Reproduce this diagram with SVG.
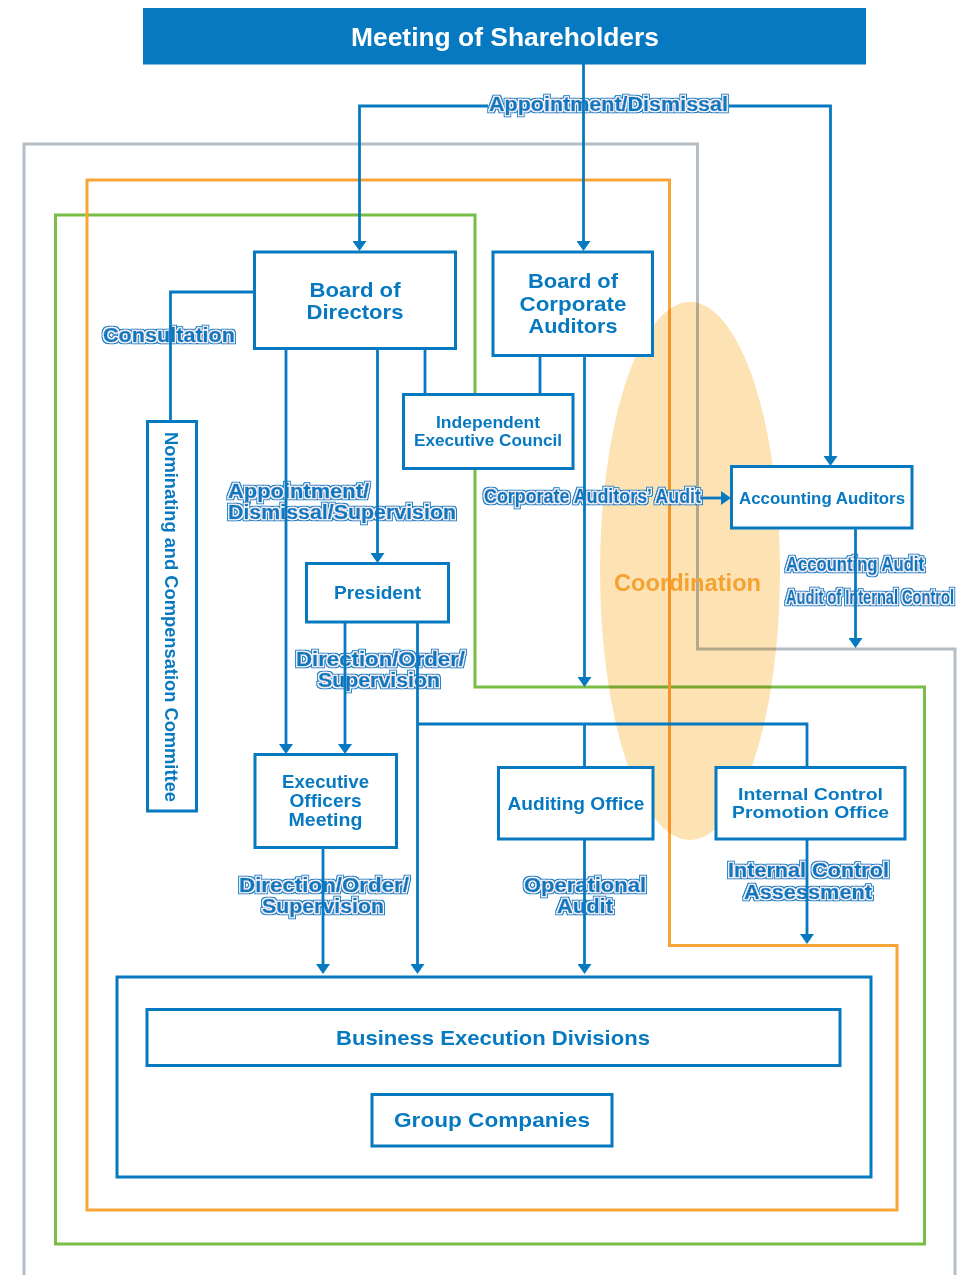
<svg xmlns="http://www.w3.org/2000/svg" width="971" height="1275" viewBox="0 0 971 1275">
<style>
.box{fill:#fff;stroke:#0779c1;stroke-width:3}
.nt{font-family:"Liberation Sans",Arial,sans-serif;font-weight:bold;fill:#0779c1;text-anchor:middle}
.lb{font-family:"Liberation Sans",Arial,sans-serif;font-weight:bold;fill:#0779c1;stroke:#0779c1;stroke-width:0.5;font-size:20px;filter:url(#halo)}
.cn{fill:none;stroke:#0779c1;stroke-width:2.8}
.ar{marker-end:url(#arr)}
</style>
<defs>
<marker id="arr" markerUnits="userSpaceOnUse" markerWidth="10" markerHeight="14" viewBox="0 0 10 14" refX="7" refY="7" orient="auto">
<path d="M0,0 L10,7 L0,14 Z" fill="#0779c1"/>
</marker>
<filter id="halo" x="-10%" y="-30%" width="120%" height="160%">
<feMorphology in="SourceAlpha" operator="dilate" radius="2.4" result="o"/>
<feFlood flood-color="#0779c1"/>
<feComposite in2="o" operator="in" result="ob"/>
<feMorphology in="SourceAlpha" operator="dilate" radius="1.3" result="i"/>
<feFlood flood-color="#ffffff"/>
<feComposite in2="i" operator="in" result="iw"/>
<feMerge><feMergeNode in="ob"/><feMergeNode in="iw"/><feMergeNode in="SourceGraphic"/></feMerge>
</filter>
</defs>
<rect width="971" height="1275" fill="#fff"/>

<g id="frames" fill="none" stroke-width="3">
<path d="M24,1275 V144 H697.5 V649 H955 V1275" stroke="#b6bec6"/>
<path d="M55.5,215 H475 V687 H924.5 V1244 H55.5 Z" stroke="#78bd45"/>
<path d="M87,180 H669.5 V945.5 H897 V1210 H87 Z" stroke="#f7a537"/>
</g>
<ellipse id="coordination-zone" cx="690" cy="571" rx="90" ry="269" fill="#fde2b4" style="mix-blend-mode:multiply"/>
<text x="614" y="591" textLength="147" lengthAdjust="spacingAndGlyphs" font-family="Liberation Sans, Arial, sans-serif" font-weight="bold" font-size="24" fill="#f5a230">Coordination</text>

<g id="labels">
<text class="lb" x="489" y="111" textLength="239" lengthAdjust="spacingAndGlyphs">Appointment/Dismissal</text>
<text class="lb" x="103" y="342" textLength="132" lengthAdjust="spacingAndGlyphs">Consultation</text>
<text class="lb" x="228" y="498" textLength="141" lengthAdjust="spacingAndGlyphs">Appointment/</text>
<text class="lb" x="228" y="519" textLength="228" lengthAdjust="spacingAndGlyphs">Dismissal/Supervision</text>
<text class="lb" x="484" y="503" textLength="217" lengthAdjust="spacingAndGlyphs">Corporate Auditors’ Audit</text>
<text class="lb" x="786" y="571" textLength="138" lengthAdjust="spacingAndGlyphs">Accounting Audit</text>
<text class="lb" x="954" y="604" text-anchor="end" textLength="168" lengthAdjust="spacingAndGlyphs">Audit of Internal Control</text>
<text class="lb" x="296" y="666" textLength="169" lengthAdjust="spacingAndGlyphs">Direction/Order/</text>
<text class="lb" x="318" y="687" textLength="122" lengthAdjust="spacingAndGlyphs">Supervision</text>
<text class="lb" x="239" y="892" textLength="170" lengthAdjust="spacingAndGlyphs">Direction/Order/</text>
<text class="lb" x="262" y="913" textLength="122" lengthAdjust="spacingAndGlyphs">Supervision</text>
<text class="lb" x="524" y="892" textLength="122" lengthAdjust="spacingAndGlyphs">Operational</text>
<text class="lb" x="557" y="913" textLength="56" lengthAdjust="spacingAndGlyphs">Audit</text>
<text class="lb" x="728" y="877" textLength="161" lengthAdjust="spacingAndGlyphs">Internal Control</text>
<text class="lb" x="744" y="899" textLength="128" lengthAdjust="spacingAndGlyphs">Assessment</text>
</g>

<g id="connectors">
<path class="cn ar" d="M583.5,64 V248"/>
<path class="cn ar" d="M488,106 H359.5 V248"/>
<path class="cn ar" d="M729,106 H830.5 V463"/>
<path class="cn" d="M254,292 H170.5 V421"/>
<path class="cn ar" d="M286,349 V751"/>
<path class="cn ar" d="M377.5,349 V560"/>
<path class="cn" d="M425,349 V394"/>
<path class="cn" d="M540,356 V394"/>
<path class="cn ar" d="M584.5,356 V684"/>
<path class="cn ar" d="M701,498 H728"/>
<path class="cn ar" d="M855.5,528 V645"/>
<path class="cn ar" d="M345,622 V751"/>
<path class="cn ar" d="M417.5,622 V971"/>
<path class="cn" d="M417.5,724 H807 V767"/>
<path class="cn" d="M584.5,724 V767"/>
<path class="cn ar" d="M323,848 V971"/>
<path class="cn ar" d="M584.5,839 V971"/>
<path class="cn ar" d="M807,839 V941"/>
</g>

<g id="meeting-of-shareholders">
<rect x="143" y="8" width="723" height="56.5" fill="#0779c1"/>
<text x="505" y="46" textLength="308" lengthAdjust="spacingAndGlyphs" font-family="Liberation Sans, Arial, sans-serif" font-weight="bold" font-size="25" fill="#fff" text-anchor="middle">Meeting of Shareholders</text>
</g>
<g id="board-of-directors">
<rect class="box" x="254.5" y="252" width="201" height="96.5"/>
<text class="nt" font-size="21"><tspan x="355" y="297" textLength="91" lengthAdjust="spacingAndGlyphs">Board of</tspan><tspan x="355" y="319" textLength="97" lengthAdjust="spacingAndGlyphs">Directors</tspan></text>
</g>
<g id="board-of-corporate-auditors">
<rect class="box" x="493" y="252" width="159.5" height="103.5"/>
<text class="nt" font-size="21"><tspan x="573" y="288" textLength="90" lengthAdjust="spacingAndGlyphs">Board of</tspan><tspan x="573" y="311" textLength="107" lengthAdjust="spacingAndGlyphs">Corporate</tspan><tspan x="573" y="333" textLength="89" lengthAdjust="spacingAndGlyphs">Auditors</tspan></text>
</g>
<g id="independent-executive-council">
<rect class="box" x="403.5" y="394.5" width="169.5" height="74"/>
<text class="nt" font-size="16.5"><tspan x="488" y="428" textLength="104" lengthAdjust="spacingAndGlyphs">Independent</tspan><tspan x="488" y="446" textLength="148" lengthAdjust="spacingAndGlyphs">Executive Council</tspan></text>
</g>
<g id="nominating-and-compensation-committee">
<rect class="box" x="147.5" y="421.5" width="49" height="389.5"/>
<text class="nt" font-size="18" style="text-anchor:start" transform="translate(165,432) rotate(90)" x="0" y="0" textLength="370" lengthAdjust="spacingAndGlyphs">Nominating and Compensation Committee</text>
</g>
<g id="accounting-auditors">
<rect class="box" x="731.5" y="466.5" width="180.5" height="61.5"/>
<text class="nt" font-size="17" x="822" y="504" textLength="166" lengthAdjust="spacingAndGlyphs">Accounting Auditors</text>
</g>
<g id="president">
<rect class="box" x="306.5" y="563.5" width="142" height="58.5"/>
<text class="nt" font-size="17.5" x="377.5" y="599" textLength="87" lengthAdjust="spacingAndGlyphs">President</text>
</g>
<g id="executive-officers-meeting">
<rect class="box" x="255" y="754.5" width="141.5" height="93"/>
<text class="nt" font-size="18"><tspan x="325.5" y="788" textLength="87" lengthAdjust="spacingAndGlyphs">Executive</tspan><tspan x="325.5" y="807" textLength="72" lengthAdjust="spacingAndGlyphs">Officers</tspan><tspan x="325.5" y="826" textLength="74" lengthAdjust="spacingAndGlyphs">Meeting</tspan></text>
</g>
<g id="auditing-office">
<rect class="box" x="498.5" y="767.5" width="154.5" height="71.5"/>
<text class="nt" font-size="17.5" x="576" y="810" textLength="137" lengthAdjust="spacingAndGlyphs">Auditing Office</text>
</g>
<g id="internal-control-promotion-office">
<rect class="box" x="716" y="767.5" width="189" height="71.5"/>
<text class="nt" font-size="17"><tspan x="810.5" y="800" textLength="145" lengthAdjust="spacingAndGlyphs">Internal Control</tspan><tspan x="810.5" y="818" textLength="157" lengthAdjust="spacingAndGlyphs">Promotion Office</tspan></text>
</g>
<g id="execution-group">
<rect class="box" x="117" y="977" width="754" height="200"/>
</g>
<g id="business-execution-divisions">
<rect class="box" x="147" y="1009.5" width="693" height="56"/>
<text class="nt" font-size="21" x="493" y="1045" textLength="314" lengthAdjust="spacingAndGlyphs">Business Execution Divisions</text>
</g>
<g id="group-companies">
<rect class="box" x="372" y="1094.5" width="240" height="51.5"/>
<text class="nt" font-size="21" x="492" y="1127" textLength="196" lengthAdjust="spacingAndGlyphs">Group Companies</text>
</g>
</svg>
